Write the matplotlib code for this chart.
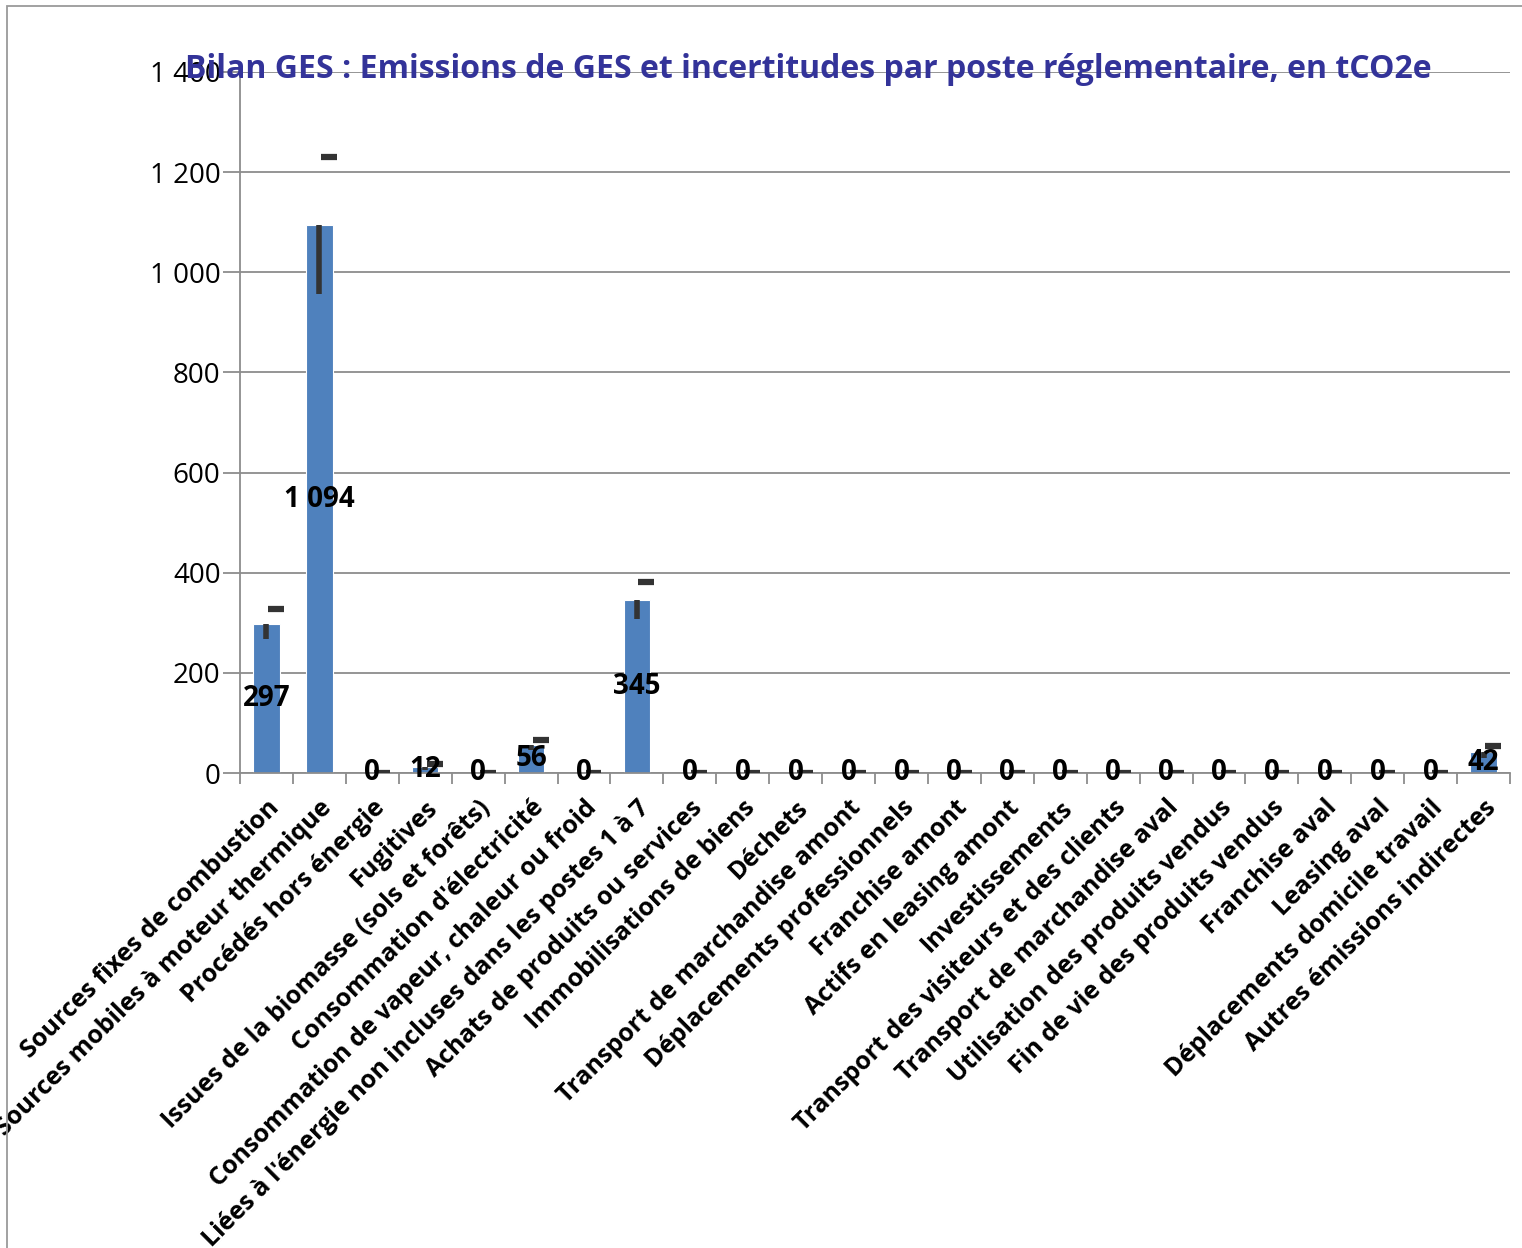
import numpy as np
import matplotlib
import matplotlib.pyplot as plt
from matplotlib.patches import Rectangle

matplotlib.use('Agg')

TITLE = "Bilan GES : Emissions de GES et incertitudes par poste réglementaire, en tCO2e"

categories = [
    "Sources fixes de combustion",
    "Sources mobiles à moteur thermique",
    "Procédés hors énergie",
    "Fugitives",
    "Issues de la biomasse (sols et forêts)",
    "Consommation d'électricité",
    "Consommation de vapeur, chaleur ou froid",
    "Liées à l'énergie non incluses dans les postes 1 à 7",
    "Achats de produits ou services",
    "Immobilisations de biens",
    "Déchets",
    "Transport de marchandise amont",
    "Déplacements professionnels",
    "Franchise amont",
    "Actifs en leasing amont",
    "Investissements",
    "Transport des visiteurs et des clients",
    "Transport de marchandise aval",
    "Utilisation des produits vendus",
    "Fin de vie des produits vendus",
    "Franchise aval",
    "Leasing aval",
    "Déplacements domicile travail",
    "Autres émissions indirectes",
]
emissions = [297, 1094, 0, 12, 0, 56, 0, 345, 0, 0, 0, 0, 0, 0, 0, 0, 0, 0, 0, 0, 0, 0, 0, 42]
uncertainty = [30, 137, 0, 6, 0, 10, 0, 37, 0, 0, 0, 0, 0, 0, 0, 0, 0, 0, 0, 0, 0, 0, 0, 12]
y_ticks = [0, 200, 400, 600, 800, 1000, 1200, 1400]
y_tick_labels = ["0", "200", "400", "600", "800", "1 000", "1 200", "1 400"]

BAR_COLOR = "#4f81bd"
ERR_COLOR = "#333333"
GRID_COLOR = "#8c8c8c"
FONT = "Open Sans"

fig = plt.figure(figsize=(15.22, 12.48), dpi=100)
ax = fig.add_axes([240 / 1522, 1 - 773 / 1248, 1270 / 1522, 701 / 1248])

x = np.arange(len(categories))
ax.bar(x, emissions, width=0.5, color=BAR_COLOR, edgecolor="white", linewidth=0.8, zorder=2)

# Excel-style uncertainty marks: stem below the bar top, dash above
for xi, v, e in zip(x, emissions, uncertainty):
    if e > 0:
        ax.plot([xi, xi], [v - e, v], color=ERR_COLOR, lw=4, solid_capstyle="butt", zorder=3)
    ax.plot([xi + 0.03, xi + 0.33], [v + e, v + e], color=ERR_COLOR, lw=4.5,
            solid_capstyle="butt", zorder=3)
    lbl = f"{v:,}".replace(",", " ")
    ax.text(xi, v / 2, lbl, ha="center", va="center", fontsize=20, fontweight="bold",
            family=FONT, color="black", zorder=4)

ax.set_xlim(-0.5, len(categories) - 0.5)
ax.set_ylim(0, 1400)
ax.set_yticks(y_ticks)
ax.set_yticklabels(y_tick_labels, fontsize=20, family=FONT)
ax.yaxis.grid(True, color=GRID_COLOR, lw=1.3, zorder=0)
ax.tick_params(axis="y", length=12, color=GRID_COLOR, width=1.3, pad=2)

ax.set_xticks(x)
ax.set_xticklabels(categories, rotation=45, ha="right", va="top", rotation_mode="anchor",
                   fontsize=18, fontweight="bold", family=FONT)
ax.set_xticks(np.arange(len(categories) + 1) - 0.5, minor=True)
ax.tick_params(axis="x", which="major", length=0, pad=16)
ax.tick_params(axis="x", which="minor", length=8, color=GRID_COLOR, width=1.3)

for side in ["top", "right"]:
    ax.spines[side].set_visible(False)
for side in ["left", "bottom"]:
    ax.spines[side].set_color(GRID_COLOR)
    ax.spines[side].set_linewidth(1.3)

fig.text(808 / 1522, 1 - 70 / 1248, TITLE, ha="center", va="center", fontsize=23,
         fontweight="bold", family=FONT, color="#333399")

fig.patches.append(Rectangle((7 / 1522, -0.1), 1.2, 1 - 6 / 1248 + 0.1, transform=fig.transFigure,
                             fill=False, edgecolor="#9a9a9a", lw=1.3))

fig.savefig("out.png", dpi=100)
